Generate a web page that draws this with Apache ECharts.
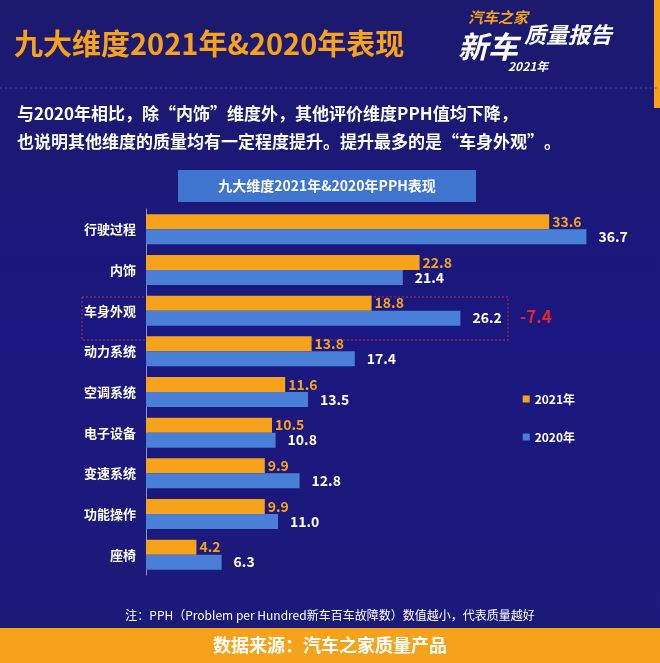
<!DOCTYPE html>
<html>
<head>
<meta charset="utf-8">
<script src="https://cdn.jsdelivr.net/npm/echarts@6/dist/echarts.min.js"></script>
<style>
  html, body { margin: 0; padding: 0; background: #1a1775; }
  #main { width: 660px; height: 663px; }
</style>
</head>
<body>
<div id="main"></div>
<script>
const categories = ['行驶过程', '内饰', '车身外观', '动力系统', '空调系统', '电子设备', '变速系统', '功能操作', '座椅']
const values2021 = [33.6, 22.8, 18.8, 13.8, 11.6, 10.5, 9.9, 9.9, 4.2]
const values2020 = [36.7, 21.4, 26.2, 17.4, 13.5, 10.8, 12.8, 11.0, 6.3]

const font = '"Noto Sans CJK SC", sans-serif'
const myChart = echarts.init(document.getElementById('main'))

const option = {
  backgroundColor: {
    type: 'linear', x: 0, y: 0, x2: 0, y2: 1,
    colorStops: [{ offset: 0, color: '#1c1a6e' }, { offset: 0.5, color: '#1a1780' }, { offset: 1, color: '#1c1a78' }]
  },
  textStyle: { fontFamily: font },
  legend: {
    orient: 'vertical',
    right: 80,
    top: 388,
    itemGap: 26,
    itemWidth: 7,
    itemHeight: 7,
    icon: 'rect',
    textStyle: { color: '#fff', fontSize: 12, fontWeight: 'bold', fontFamily: font },
    data: ['2021年', '2020年']
  },
  grid: { left: 146, right: 34, top: 209, bottom: 88 },
  xAxis: { type: 'value', min: 0, max: 40, show: false },
  yAxis: {
    type: 'category',
    inverse: true,
    data: categories,
    axisLine: { lineStyle: { color: '#8a92c8' } },
    axisTick: { lineStyle: { color: '#8a92c8' } },
    axisLabel: { color: '#fff', fontSize: 13, fontWeight: 'bold', margin: 10, fontFamily: font }
  },
  series: [
    {
      name: '2021年', type: 'bar', data: values2021, barWidth: 15, barGap: '0%',
      itemStyle: { color: '#f7a21b' },
      label: { show: true, position: 'right', color: '#f7a21b', fontSize: 14, fontWeight: 'bold', distance: 3 }
    },
    {
      name: '2020年', type: 'bar', data: values2020, barWidth: 15,
      itemStyle: { color: '#4a7fd8' },
      label: { show: true, position: 'right', color: '#fff', fontSize: 14, fontWeight: 'bold', distance: 12,
        formatter: p => p.value.toFixed(1) }
    }
  ],
  graphic: [
    { type: 'text', style: { x: 14, y: 44, text: '九大维度2021年&2020年表现', fill: '#f7a21b', font: 'bold 29px ' + font, verticalAlign: 'middle' } },
    { type: 'text', style: { x: 468, y: 10, text: '汽车之家', fill: '#f7a21b', font: 'italic bold 15px ' + font } },
    { type: 'text', style: { x: 458, y: 32, text: '新车', fill: '#fff', font: 'italic bold 30px ' + font } },
    { type: 'text', style: { x: 524, y: 24, text: '质量报告', fill: '#fff', font: 'italic bold 22px ' + font } },
    { type: 'text', style: { x: 508, y: 60, text: '2021年', fill: '#fff', font: 'italic bold 12px ' + font } },
    { type: 'rect', shape: { x: 654, y: 0, width: 6, height: 108 }, style: { fill: '#f7a21b' } },
    { type: 'line', shape: { x1: 0, y1: 88, x2: 660, y2: 88 }, style: { stroke: '#4a4a9a', lineDash: [2, 3] } },
    { type: 'text', style: { x: 17, y: 100, text: '与2020年相比，除“内饰”维度外，其他评价维度PPH值均下降，\n也说明其他维度的质量均有一定程度提升。提升最多的是“车身外观”。', fill: '#fff', font: 'bold 17px ' + font, lineHeight: 28 } },
    { type: 'rect', shape: { x: 178, y: 170, width: 298, height: 32 }, style: { fill: '#3f74cf' } },
    { type: 'text', style: { x: 327, y: 186, text: '九大维度2021年&2020年PPH表现', fill: '#fff', font: 'bold 14px ' + font, align: 'center', verticalAlign: 'middle' } },
    { type: 'rect', shape: { x: 82, y: 297, width: 426, height: 43 }, style: { fill: 'none', stroke: '#c0303a', lineDash: [2, 2], lineWidth: 1 } },
    { type: 'text', style: { x: 520, y: 308, text: '-7.4', fill: '#e8242a', font: 'bold 17px ' + font } },
    { type: 'text', style: { x: 330, y: 615, text: '注：PPH（Problem per Hundred新车百车故障数）数值越小，代表质量越好', fill: '#fff', font: '12px ' + font, align: 'center', verticalAlign: 'middle' } },
    { type: 'rect', shape: { x: 0, y: 628, width: 660, height: 35 }, style: { fill: '#f7a21b' } },
    { type: 'text', style: { x: 330, y: 645, text: '数据来源：汽车之家质量产品', fill: '#fff', font: 'bold 18px ' + font, align: 'center', verticalAlign: 'middle' } }
  ]
}

myChart.setOption(option)
</script>
</body>
</html>
